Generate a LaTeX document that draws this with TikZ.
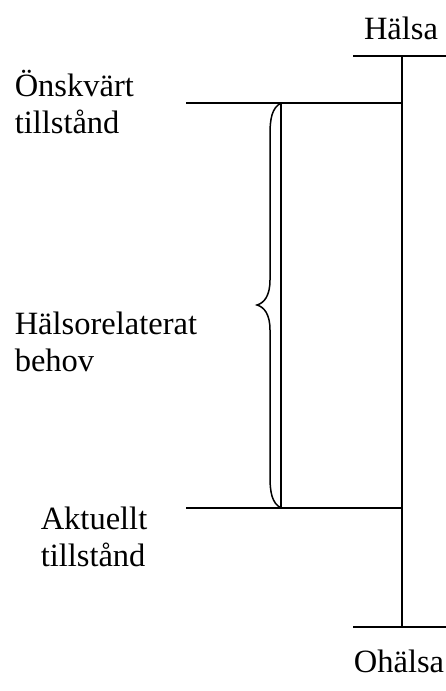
\documentclass[tikz,border=0pt]{standalone}
\usepackage{fontspec}
\setmainfont{Liberation Serif}
\begin{document}
\begin{tikzpicture}[x=1bp,y=-1bp,line width=1.5bp,
  lbl/.style={inner sep=0pt,font=\fontsize{32.5bp}{37bp}\selectfont,align=left,anchor=base west},
  ttl/.style={inner sep=0pt,font=\fontsize{32.5bp}{37bp}\selectfont,anchor=base}]
\useasboundingbox (0,0) rectangle (446,691);
% axis
\coordinate (axtop) at (402,56);
\coordinate (axbot) at (402,627);
\coordinate (topL) at (353,56);
\coordinate (topR) at (446,56);
\coordinate (botL) at (353,627);
\coordinate (botR) at (446,627);
\coordinate (desL) at (186,103);
\coordinate (desR) at (402,103);
\coordinate (actL) at (186,508);
\coordinate (actR) at (402,508);
\coordinate (brT) at (281,103);
\coordinate (brB) at (281,508);
\coordinate (brTip) at (257,305);
\draw (axtop) -- (axbot);
\draw (topL) -- (topR);
\draw (botL) -- (botR);
\draw (desL) -- (desR);
\draw (actL) -- (actR);
\draw (brT) -- (brB);
\draw (brT) .. controls (272,108) and (270,118) .. (270,135)
  -- (270,280) .. controls (270,296) and (264,303) .. (brTip)
  .. controls (264,307) and (270,314) .. (270,330)
  -- (270,476) .. controls (270,493) and (272,503) .. (brB);
% labels
\node[ttl] (halsa) at (401,40) {Hälsa};
\node[ttl] (ohalsa) at (399,672) {Ohälsa};
\node[lbl] (onsk) at (14,134) {Önskvärt\\tillstånd};
\node[lbl] (behov) at (14,371) {Hälsorelaterat\\behov};
\node[lbl] (akt) at (40,566) {Aktuellt\\tillstånd};
\end{tikzpicture}
\end{document}
